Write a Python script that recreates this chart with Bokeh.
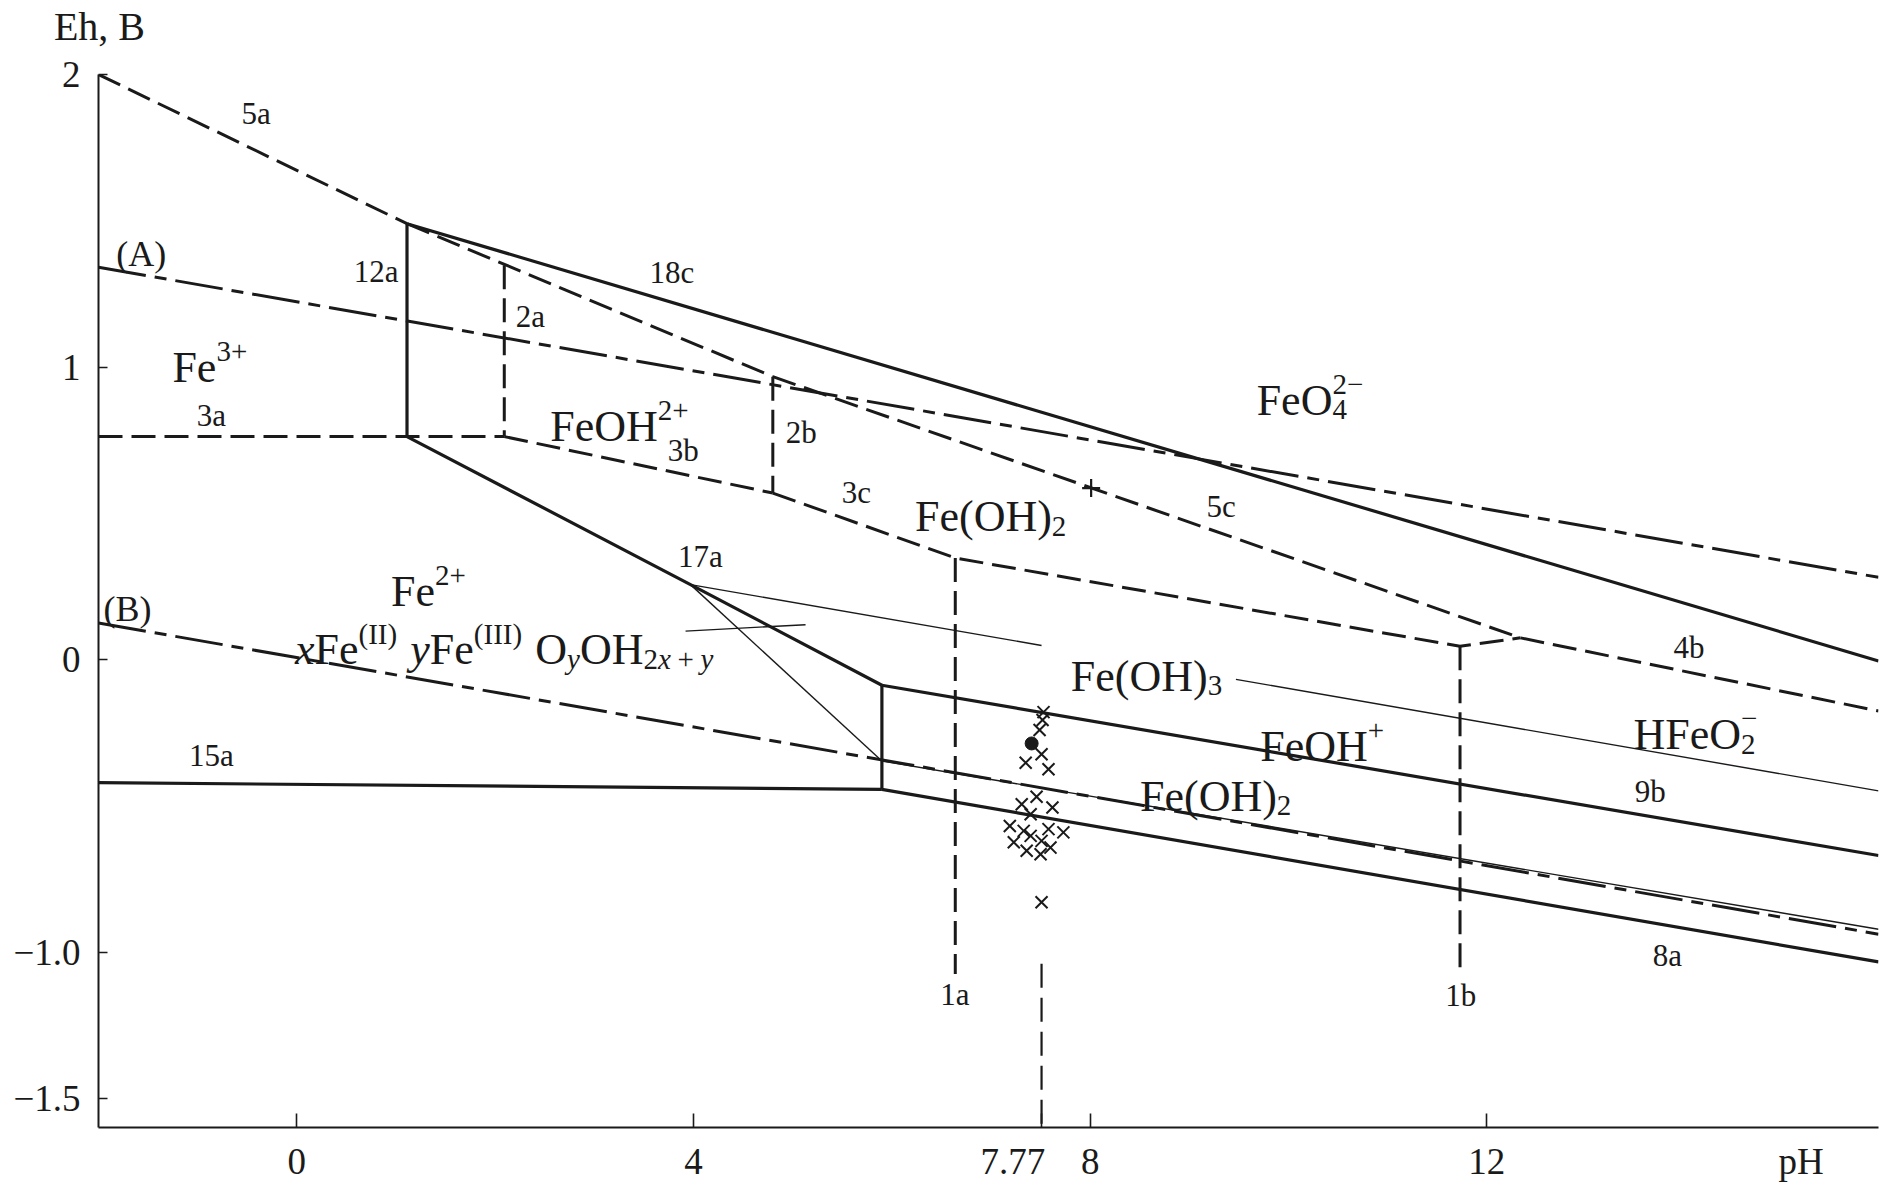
from bokeh.plotting import figure
from bokeh.models import Range1d, FixedTicker, LinearAxis
from bokeh.core.properties import value
from bokeh.embed import file_html
from bokeh.resources import INLINE

# ---------------- data (x = pH, y = Eh, V) ----------------
x_ticks = [0, 4, 7.22, 8, 12, 15.17]            # label positions
x_tick_labels = ["0", "4", "7.77", "8", "12", "pH"]
x_tick_marks = [0, 4, 7.51, 8, 12]              # tick-mark positions
y_ticks = [2, 1, 0, -1, -1.5]
y_tick_labels = ["2", "1", "0", "\u22121.0", "\u22121.5"]
y_title = "Eh, B"
y_title_ph = -1.99

# solid boundaries
ph_12a = [1.111, 1.111];        eh_12a = [1.490, 0.762]
ph_18c = [1.111, 15.95];        eh_18c = [1.490, -0.005]
ph_17a = [1.111, 3.97, 5.90];   eh_17a = [0.762, 0.256, -0.088]
ph_v59 = [5.90, 5.90];          eh_v59 = [-0.088, -0.444]
ph_9b = [5.90, 15.95];          eh_9b = [-0.088, -0.670]
ph_8a = [5.90, 15.95];          eh_8a = [-0.444, -1.034]
ph_15a = [-2.0, 5.90];          eh_15a = [-0.421, -0.444]

# dashed boundaries
ph_5a = [-2.0, 1.111];          eh_5a = [2.0, 1.490]
ph_5b = [1.111, 4.80];          eh_5b = [1.490, 0.967]
ph_5c = [4.80, 12.34];          eh_5c = [0.967, 0.074]
ph_4b = [12.34, 15.95];         eh_4b = [0.074, -0.176]
ph_3a = [-2.0, 2.092];          eh_3a = [0.762, 0.762]
ph_2a = [2.092, 2.092];         eh_2a = [1.348, 0.762]
ph_3b = [2.092, 4.80];          eh_3b = [0.762, 0.569]
ph_2b = [4.80, 4.80];           eh_2b = [0.967, 0.569]
ph_3c = [4.80, 6.64, 11.73, 12.34]; eh_3c = [0.569, 0.347, 0.045, 0.074]
ph_1a = [6.64, 6.64];           eh_1a = [0.347, -1.075]
ph_1b = [11.73, 11.73];         eh_1b = [0.045, -1.075]
ph_777 = [7.51, 7.51];          eh_777 = [-1.04, -1.6]

# water stability lines (A) and (B), dash-dot
ph_A = [-2.0, 15.95];           eh_A = [1.341, 0.281]
ph_B = [-2.0, 15.95];           eh_B = [0.125, -0.939]

# thin lines
ph_t1 = [3.97, 7.51];           eh_t1 = [0.256, 0.048]
ph_t1b = [9.47, 15.95];         eh_t1b = [-0.068, -0.449]
ph_t2 = [3.97, 5.90];           eh_t2 = [0.256, -0.347]
ph_t3 = [5.90, 15.95];          eh_t3 = [-0.347, -0.922]
ph_lead = [3.92, 5.13];         eh_lead = [0.097, 0.119]

# marks
plus_ph = [8.01];               plus_eh = [0.586]
dot_ph = [7.41];                dot_eh = [-0.287]
cross_ph = [7.53, 7.52, 7.49, 7.35, 7.51, 7.58, 7.46, 7.31, 7.62, 7.40, 7.19,
            7.33, 7.58, 7.73, 7.40, 7.23, 7.51, 7.36, 7.50, 7.60, 7.51]
cross_eh = [-0.180, -0.207, -0.241, -0.353, -0.324, -0.375, -0.469, -0.495, -0.506,
            -0.529, -0.569, -0.586, -0.580, -0.591, -0.603, -0.625, -0.620, -0.654,
            -0.666, -0.643, -0.830]

# line labels
line_labels = ["5a", "12a", "2a", "18c", "3a", "3b", "2b", "3c", "5c", "17a",
               "4b", "9b", "8a", "15a", "1a", "1b"]
line_label_ph = [-0.41, 0.80, 2.355, 3.783, -0.862, 3.897, 5.087, 5.642, 9.322, 4.069,
                 14.04, 13.648, 13.82, -0.862, 6.635, 11.737]
line_label_eh = [1.867, 1.328, 1.174, 1.324, 0.833, 0.713, 0.776, 0.572, 0.522, 0.352,
                 0.040, -0.452, -1.012, -0.328, -1.147, -1.150]

# region labels (left edge, baseline)
region_ph = [-1.255, 2.556, 6.234, 9.679, 7.805, 9.716, 8.503, 13.48, 0.949, -0.019]
region_eh = [0.998, 0.796, 0.489, 0.887, -0.057, -0.296, -0.467, -0.256, 0.233, 0.034]
region_markup = [
    [("n", "Fe", 0), ("sup", "3+", 0)],
    [("n", "FeOH", 0), ("sup", "2+", 0)],
    [("n", "Fe(OH)", 0), ("sub", "2", 0)],
    [("n", "FeO", 0), ("stack", "4", "2\u2212")],
    [("n", "Fe(OH)", 0), ("sub", "3", 0)],
    [("n", "FeOH", 0), ("sup", "+", 0)],
    [("n", "Fe(OH)", 0), ("sub", "2", 0)],
    [("n", "HFeO", 0), ("stack", "2", "\u2212")],
    [("n", "Fe", 0), ("sup", "2+", 0)],
    [("n", "x", 1), ("n", "Fe", 0), ("sup", "(II)", 0), ("gap", 0.3), ("n", "y", 1),
     ("n", "Fe", 0), ("sup", "(III)", 0), ("gap", 0.3), ("n", "O", 0), ("sub", "y", 1),
     ("n", "OH", 0), ("sub", "2", 0), ("sub", "x", 1), ("gap", 0.15), ("sub", "+", 0),
     ("gap", 0.15), ("sub", "y", 1)],
]
series_labels = ["(A)", "(B)"]
series_label_ph = [-1.82, -1.95]
series_label_eh = [1.387, 0.174]

# ---------------- figure ----------------
FONT = "Liberation Serif"
INK = "#1a1a1a"
X0, X1, Y0, Y1 = -2.0, 15.95, -1.6, 2.0
FW, FH = 1780, 1055
BL, BT, BB = 98, 74, 55
PXX = FW / (X1 - X0)
PXY = FH / (Y1 - Y0)

p = figure(width=BL + FW + 2, height=BT + FH + BB, x_range=Range1d(X0, X1),
           y_range=Range1d(Y0, Y1), output_backend="svg", toolbar_location=None,
           title=None,
           min_border_left=BL, min_border_right=2, min_border_top=BT, min_border_bottom=BB)
p.outline_line_color = None
p.grid.visible = False
p.background_fill_color = "white"

for ax in (p.xaxis[0], p.yaxis[0]):
    ax.axis_line_width = 2
    ax.axis_line_color = INK
    ax.major_label_text_font = FONT
    ax.major_label_text_font_size = "37px"
    ax.major_label_text_color = INK
p.xaxis.ticker = FixedTicker(ticks=x_ticks, minor_ticks=x_tick_marks)
p.xaxis.major_label_overrides = dict(zip(x_ticks, x_tick_labels))
p.xaxis.major_tick_line_color = None
p.xaxis.minor_tick_line_color = INK
p.xaxis.minor_tick_line_width = 1.6
p.xaxis.minor_tick_in = 14
p.xaxis.minor_tick_out = 0
p.xaxis.major_label_standoff = 7
p.yaxis.ticker = FixedTicker(ticks=y_ticks)
p.yaxis.major_label_overrides = dict(zip(y_ticks, y_tick_labels))
p.yaxis.major_tick_line_color = INK
p.yaxis.major_tick_line_width = 1.6
p.yaxis.major_tick_in = 9
p.yaxis.major_tick_out = 0
p.yaxis.minor_tick_line_color = None
p.yaxis.major_label_standoff = 18

# quantity/unit caption of the Eh axis, placed in the panel above the frame
cap = LinearAxis(ticker=FixedTicker(ticks=[y_title_ph]),
                 major_label_overrides={y_title_ph: y_title})
cap.axis_line_color = None
cap.major_tick_line_color = None
cap.minor_tick_line_color = None
cap.major_tick_in = 0
cap.major_tick_out = 0
cap.major_label_standoff = 26
cap.major_label_text_font = FONT
cap.major_label_text_font_size = "40px"
cap.major_label_text_color = INK
p.add_layout(cap, "above")

# solid
for xs, ys in [(ph_12a, eh_12a), (ph_18c, eh_18c), (ph_17a, eh_17a), (ph_v59, eh_v59),
               (ph_9b, eh_9b), (ph_8a, eh_8a), (ph_15a, eh_15a)]:
    p.line(xs, ys, line_width=3.2, line_color=INK, line_join="miter")
# dashed
for xs, ys in [(ph_5a, eh_5a), (ph_5b, eh_5b), (ph_5c, eh_5c), (ph_4b, eh_4b),
               (ph_3a, eh_3a), (ph_2a, eh_2a), (ph_3b, eh_3b), (ph_2b, eh_2b),
               (ph_3c, eh_3c), (ph_1a, eh_1a), (ph_1b, eh_1b)]:
    p.line(xs, ys, line_width=3.0, line_color=INK, line_dash="24 9")
p.line(ph_777, eh_777, line_width=2.2, line_color=INK, line_dash="24 10")
# dash-dot
for xs, ys in [(ph_A, eh_A), (ph_B, eh_B)]:
    p.line(xs, ys, line_width=3.0, line_color=INK, line_dash="48 9 12 9")
# thin
for xs, ys in [(ph_t1, eh_t1), (ph_t1b, eh_t1b), (ph_t2, eh_t2), (ph_t3, eh_t3),
               (ph_lead, eh_lead)]:
    p.line(xs, ys, line_width=1.4, line_color=INK)

p.scatter(plus_ph, plus_eh, marker="cross", size=18, line_width=2.2, line_color=INK)
p.scatter(cross_ph, cross_eh, marker="x", size=17, line_width=2.0, line_color=INK)
p.scatter(dot_ph, dot_eh, marker="circle", size=13, fill_color=INK, line_color=INK)

# line labels
p.text(line_label_ph, line_label_eh, text=line_labels, text_font=value(FONT),
       text_font_size=value("31px"), text_align="center", text_baseline="middle",
       text_color=INK)
p.text(series_label_ph, series_label_eh, text=series_labels, text_font=value(FONT),
       text_font_size=value("36px"), text_align="left", text_baseline="middle",
       text_color=INK)

# region labels with sub/superscripts
ADV = {' ': .25, '(': .333, ')': .333, '+': .564, '\u2212': .564, 'F': .556, 'H': .722,
       'I': .333, 'O': .722, 'e': .444, 'x': .5, 'y': .5}
ADV_I = {'x': .444, 'y': .444}


def adv(s, it):
    return sum((ADV_I[c] if (it and c in ADV_I) else ADV.get(c, .5)) for c in s)


groups = {}


def put(x, y, t, s, it):
    g = groups.setdefault((s, it), ([], [], []))
    g[0].append(x); g[1].append(y); g[2].append(t)


S = 44
SM = round(0.66 * S)
SUP, SUB = 0.36 * S, 0.22 * S
for x0, y0, segs in zip(region_ph, region_eh, region_markup):
    cur = 0.0
    for seg in segs:
        kind = seg[0]
        if kind == "gap":
            cur += seg[1] * S
        elif kind == "stack":
            put(x0 + cur / PXX, y0 - SUB / PXY, seg[1], SM, 0)
            put(x0 + cur / PXX, y0 + SUP / PXY, seg[2], SM, 0)
            cur += max(adv(seg[1], 0), adv(seg[2], 0)) * SM
        else:
            t, it = seg[1], seg[2]
            if kind == "n":
                put(x0 + cur / PXX, y0, t, S, it); cur += adv(t, it) * S
            elif kind == "sup":
                put(x0 + cur / PXX, y0 + SUP / PXY, t, SM, it); cur += adv(t, it) * SM
            else:
                put(x0 + cur / PXX, y0 - SUB / PXY, t, SM, it); cur += adv(t, it) * SM

for (s, it), (xs, ys, ts) in groups.items():
    p.text(xs, ys, text=ts, text_font=value(FONT), text_font_size=value(f"{s}px"),
           text_font_style="italic" if it else "normal", text_align="left",
           text_baseline="alphabetic", text_color=INK)

open("out.html", "w").write(file_html(p, INLINE))
